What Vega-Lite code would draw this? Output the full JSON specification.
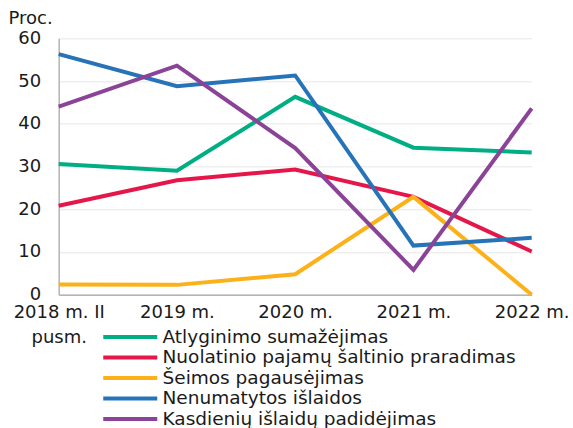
{
  "$schema": "https://vega.github.io/schema/vega-lite/v6.json",
  "width": 473,
  "height": 256.4,
  "autosize": {"type": "none"},
  "padding": {"left": 58.7, "top": 38.3, "right": 41.3, "bottom": 133.3},
  "config": {
    "font": "DejaVu Sans",
    "view": {"stroke": null},
    "axis": {"labelColor": "#1a1a1a", "titleColor": "#1a1a1a", "domainColor": "#b4b4b4", "domainWidth": 1.5}
  },
  "data": {
    "values": [
      {"year": "2018 m. II pusm.", "series": "Atlyginimo sumažėjimas", "value": 30.6},
      {"year": "2019 m.", "series": "Atlyginimo sumažėjimas", "value": 29.0},
      {"year": "2020 m.", "series": "Atlyginimo sumažėjimas", "value": 46.3},
      {"year": "2021 m.", "series": "Atlyginimo sumažėjimas", "value": 34.4},
      {"year": "2022 m.", "series": "Atlyginimo sumažėjimas", "value": 33.3},
      {"year": "2018 m. II pusm.", "series": "Nuolatinio pajamų šaltinio praradimas", "value": 20.8},
      {"year": "2019 m.", "series": "Nuolatinio pajamų šaltinio praradimas", "value": 26.8},
      {"year": "2020 m.", "series": "Nuolatinio pajamų šaltinio praradimas", "value": 29.3},
      {"year": "2021 m.", "series": "Nuolatinio pajamų šaltinio praradimas", "value": 22.9},
      {"year": "2022 m.", "series": "Nuolatinio pajamų šaltinio praradimas", "value": 10.1},
      {"year": "2018 m. II pusm.", "series": "Šeimos pagausėjimas", "value": 2.4},
      {"year": "2019 m.", "series": "Šeimos pagausėjimas", "value": 2.3},
      {"year": "2020 m.", "series": "Šeimos pagausėjimas", "value": 4.8},
      {"year": "2021 m.", "series": "Šeimos pagausėjimas", "value": 22.9},
      {"year": "2022 m.", "series": "Šeimos pagausėjimas", "value": 0},
      {"year": "2018 m. II pusm.", "series": "Nenumatytos išlaidos", "value": 56.3},
      {"year": "2019 m.", "series": "Nenumatytos išlaidos", "value": 48.8},
      {"year": "2020 m.", "series": "Nenumatytos išlaidos", "value": 51.3},
      {"year": "2021 m.", "series": "Nenumatytos išlaidos", "value": 11.5},
      {"year": "2022 m.", "series": "Nenumatytos išlaidos", "value": 13.3},
      {"year": "2018 m. II pusm.", "series": "Kasdienių išlaidų padidėjimas", "value": 44.0},
      {"year": "2019 m.", "series": "Kasdienių išlaidų padidėjimas", "value": 53.6},
      {"year": "2020 m.", "series": "Kasdienių išlaidų padidėjimas", "value": 34.3},
      {"year": "2021 m.", "series": "Kasdienių išlaidų padidėjimas", "value": 5.8},
      {"year": "2022 m.", "series": "Kasdienių išlaidų padidėjimas", "value": 43.6}
    ]
  },
  "mark": {"type": "line", "strokeWidth": 4, "strokeJoin": "miter"},
  "encoding": {
    "x": {
      "field": "year",
      "type": "ordinal",
      "sort": ["2018 m. II pusm.", "2019 m.", "2020 m.", "2021 m.", "2022 m."],
      "scale": {"type": "point", "padding": 0},
      "axis": {
        "title": null,
        "labelAngle": 0,
        "labelFontSize": 18,
        "labelPadding": 9,
        "labelLineHeight": 25,
        "ticks": false,
        "grid": false,
        "labelOverlap": false,
        "labelBound": false,
        "labelFlush": false,
        "labelExpr": "datum.label == '2018 m. II pusm.' ? ['2018 m. II', 'pusm.'] : datum.label"
      }
    },
    "y": {
      "field": "value",
      "type": "quantitative",
      "scale": {"domain": [0, 60], "nice": false},
      "axis": {
        "values": [0, 10, 20, 30, 40, 50, 60],
        "title": "Proc.",
        "titleAngle": 0,
        "titleAlign": "left",
        "titleBaseline": "alphabetic",
        "titleX": -50.7,
        "titleY": -14.5,
        "titleFontSize": 18,
        "titleFontWeight": "normal",
        "labelFontSize": 18,
        "labelPadding": 18,
        "ticks": false,
        "grid": true,
        "gridColor": "#efefef",
        "gridWidth": 1.5
      }
    },
    "color": {
      "field": "series",
      "type": "nominal",
      "scale": {
        "domain": ["Atlyginimo sumažėjimas", "Nuolatinio pajamų šaltinio praradimas", "Šeimos pagausėjimas", "Nenumatytos išlaidos", "Kasdienių išlaidų padidėjimas"],
        "range": ["#00ae84", "#e5174a", "#fdb119", "#2673b8", "#8b4398"]
      },
      "legend": {
        "title": null,
        "orient": "none",
        "legendX": 62.3,
        "legendY": 289.4,
        "padding": 0,
        "symbolType": "M-6.75,0H6.75",
        "symbolSize": 64,
        "symbolStrokeWidth": 4,
        "labelOffset": 23,
        "labelFontSize": 18.5,
        "labelColor": "#1a1a1a",
        "labelLimit": 500,
        "rowPadding": 1.5
      }
    }
  }
}
